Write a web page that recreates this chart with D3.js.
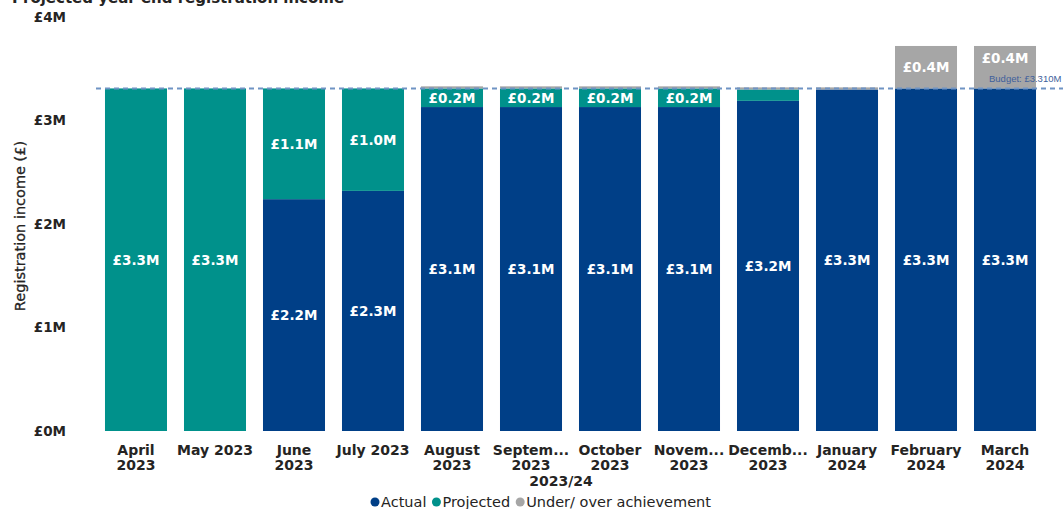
<!DOCTYPE html>
<html><head><meta charset="utf-8">
<script src="https://cdn.jsdelivr.net/npm/d3@7"></script>
<style>body{margin:0;background:#fff;}svg{display:block;font-family:"DejaVu Sans",Verdana,sans-serif;}</style>
</head><body><svg id="c" width="1063" height="509"></svg>
<script>
const categories = ["April 2023","May 2023","June 2023","July 2023","August 2023","September 2023","October 2023","November 2023","December 2023","January 2024","February 2024","March 2024"];
const tickLabels = [["April","2023"],["May 2023"],["June","2023"],["July 2023"],["August","2023"],["Septem...","2023"],["October","2023"],["Novem...","2023"],["Decemb...","2023"],["January","2024"],["February","2024"],["March","2024"]];
const actual    = [0, 0, 2.24, 2.32, 3.13, 3.13, 3.13, 3.13, 3.19, 3.30, 3.31, 3.31];
const projected = [3.31, 3.31, 1.07, 0.99, 0.18, 0.18, 0.18, 0.18, 0.11, 0, 0, 0];
const underOver = [0, 0, 0, 0, 0.02, 0.02, 0.02, 0.02, 0.02, 0.02, 0.41, 0.41];
const seriesNames = ["Actual","Projected","Under/ over achievement"];
const seriesColors = ["#003F87","#00918B","#A6A6A6"];
const yTicks = [0,1,2,3,4];
const budget = 3.31;

const svg = d3.select("#c");
const x = d3.scaleBand().domain(categories).range([88,1053]).paddingInner(0.215).paddingOuter(0.215);
const y = d3.scaleLinear().domain([0,4]).range([431,17]);

// title (cut off at top, as in the reference)
svg.append("text").attr("x",12).attr("y",3).attr("font-size",15).attr("font-weight","bold").attr("fill","#252423").text("Projected year end registration income");

// y axis
const yAxis = svg.append("g").attr("transform","translate(66,0)")
  .call(d3.axisLeft(y).tickValues(yTicks).tickSize(0).tickPadding(0).tickFormat(d=>"£"+d+"M"));
yAxis.select(".domain").remove();
yAxis.selectAll("text").attr("font-size",13.5).attr("font-weight","bold").attr("fill","#252423").attr("font-family","DejaVu Sans");

svg.append("text").attr("transform","translate(25,226) rotate(-90)").attr("text-anchor","middle")
  .attr("font-size",14.5).attr("fill","#252423").attr("stroke","#252423").attr("stroke-width",0.3).text("Registration income (£)");

// stacked bars
const rows = categories.map((c,i)=>({cat:c, Actual:actual[i], Projected:projected[i], "Under/ over achievement":underOver[i]}));
const stack = d3.stack().keys(seriesNames)(rows);
const g = svg.append("g");
stack.forEach((layer,li)=>{
  g.selectAll(null).data(layer).enter().append("rect")
    .attr("x",d=>x(d.data.cat)).attr("width",x.bandwidth())
    .attr("y",d=>y(d[1])).attr("height",d=>Math.max(0,y(d[0])-y(d[1])))
    .attr("fill",seriesColors[li]);
});

// budget line
svg.append("line").attr("x1",96).attr("x2",1063).attr("y1",y(budget)).attr("y2",y(budget))
  .attr("stroke","#6F93C4").attr("stroke-width",2).attr("stroke-dasharray","5,4");
svg.append("text").attr("x",989).attr("y",y(budget)-6).attr("text-anchor","start")
  .attr("font-size",9.5).attr("fill","#3E5F9C").attr("font-family","Liberation Sans, Arial")
  .text("Budget: £3.310M");

// data labels
stack.forEach((layer,li)=>{
  layer.forEach((d,i)=>{
    const v = d[1]-d[0];
    if (v < 0.15) return;
    let cy = (y(d[0])+y(d[1]))/2+5;
    if (li===2 && i===categories.length-1) cy -= 9; // label nudged above budget text
    svg.append("text").attr("x",x(d.data.cat)+x.bandwidth()/2).attr("y",cy)
      .attr("text-anchor","middle").attr("font-size",13.5).attr("font-weight","bold").attr("fill","#fff")
      .text("£"+v.toFixed(1)+"M");
  });
});

// x axis labels
const xg = svg.append("g");
categories.forEach((c,i)=>{
  const t = xg.append("text").attr("x",x(c)+x.bandwidth()/2).attr("y",455).attr("text-anchor","middle")
    .attr("font-size",14).attr("font-weight","bold").attr("fill","#252423");
  tickLabels[i].forEach((l,j)=>t.append("tspan").attr("x",x(c)+x.bandwidth()/2).attr("dy",j?15:0).text(l));
});
svg.append("text").attr("x",561).attr("y",486).attr("text-anchor","middle").attr("font-size",14)
  .attr("font-weight","bold").attr("fill","#252423").text("2023/24");

// legend
let lx = 371;
const lg = svg.append("g");
seriesNames.forEach((n,i)=>{
  lg.append("circle").attr("cx",lx+4).attr("cy",502).attr("r",4.5).attr("fill",seriesColors[i]);
  const t = lg.append("text").attr("x",lx+10).attr("y",507).attr("font-size",14.5).attr("fill","#252423").text(n);
  lx += 10 + t.node().getComputedTextLength() + 6;
});
</script></body></html>
